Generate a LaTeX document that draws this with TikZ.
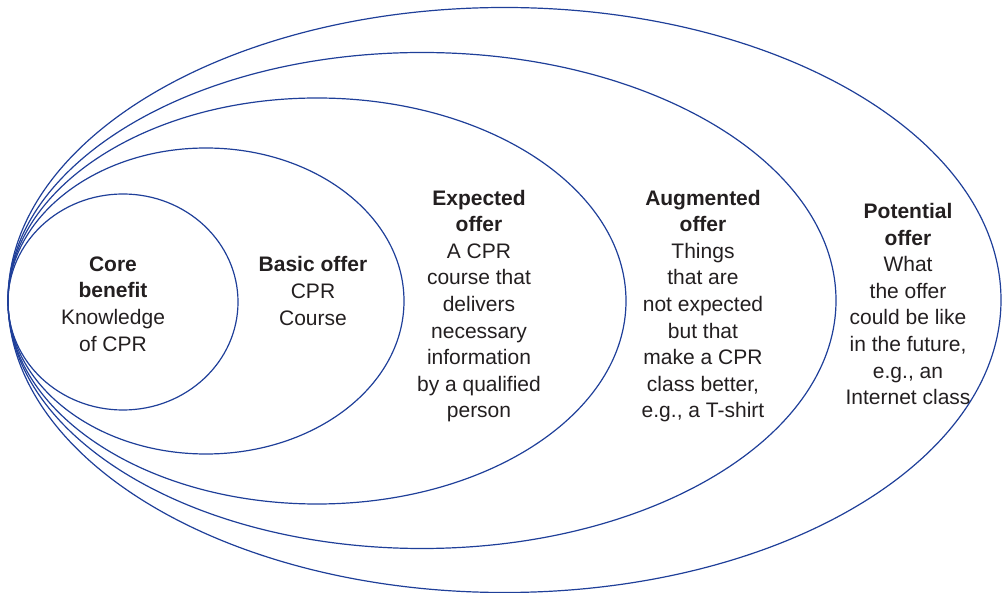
\documentclass[tikz,border=0pt]{standalone}
\usepackage{fontspec}
\setmainfont{Liberation Sans}
\definecolor{ringblue}{HTML}{1F3F99}
\definecolor{ink}{HTML}{231F20}
\begin{document}
\begin{tikzpicture}[x=1pt,y=-1pt,
  ring/.style={draw=ringblue,line width=1.2pt},
  label/.style={align=center,text=ink,inner sep=0pt,
    font=\fontsize{21}{26.6}\selectfont}]
\useasboundingbox (0,0) rectangle (1002,593);
% nested product levels, all touching at the left
\draw[ring] (123,302) ellipse [x radius=115pt,y radius=108pt];
\draw[ring] (206,301) ellipse [x radius=198pt,y radius=153pt];
\draw[ring] (317,301) ellipse [x radius=309pt,y radius=203pt];
\draw[ring] (422,300.5) ellipse [x radius=414pt,y radius=248pt];
\draw[ring] (504.5,300) ellipse [x radius=496.5pt,y radius=292.5pt];
% level texts
\node[label] (core) at (113,304) {\textbf{Core}\\\textbf{benefit}\\Knowledge\\of CPR};
\node[label] (basic) at (313,291) {\textbf{Basic offer}\\CPR\\Course};
\node[label] (expected) at (479,306) {\textbf{Expected}\\\textbf{offer}\\A CPR\\course that\\delivers\\necessary\\information\\by a qualified\\person};
\node[label] (augmented) at (703,306) {\textbf{Augmented}\\\textbf{offer}\\Things\\that are\\not expected\\but that\\make a CPR\\class better,\\e.g., a T-shirt};
\node[label] (potential) at (908,304) {\textbf{Potential}\\\textbf{offer}\\What\\the offer\\could be like\\in the future,\\e.g., an\\Internet class};
\end{tikzpicture}
\end{document}
